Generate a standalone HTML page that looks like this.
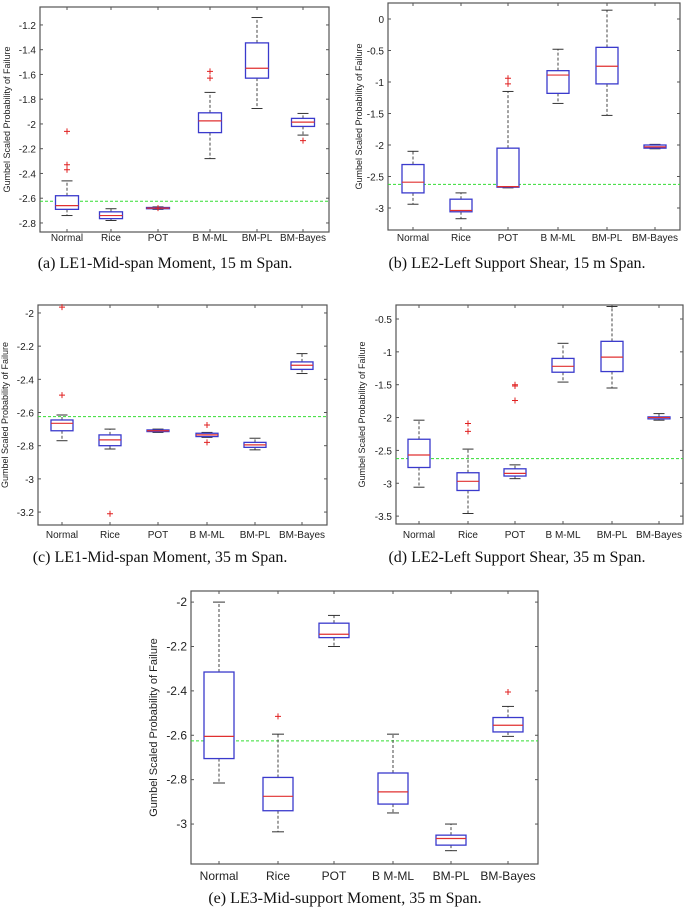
<!DOCTYPE html>
<html><head><meta charset="utf-8"><style>
html,body{margin:0;padding:0;background:#fff;}
svg{display:block;}
.tk{font-family:"Liberation Sans",sans-serif;font-size:10px;fill:#222;}
.yt{font-family:"Liberation Sans",sans-serif;font-size:9px;fill:#222;}
.tkE{font-family:"Liberation Sans",sans-serif;font-size:12px;fill:#222;}
.ytE{font-family:"Liberation Sans",sans-serif;font-size:11px;fill:#222;}
.cap{font-family:"Liberation Serif",serif;font-size:16px;fill:#111;}
</style></head><body>
<svg id="fig" width="685" height="907" viewBox="0 0 685 907" xmlns="http://www.w3.org/2000/svg"></svg>
<script>
const categories = ["Normal","Rice","POT","B M-ML","BM-PL","BM-Bayes"];
const refLine = -2.625;
// Panel a
const aLo  = [-2.74,-2.78,-2.69,-2.28,-1.875,-2.09];
const aQ1  = [-2.69,-2.765,-2.685,-2.07,-1.63,-2.02];
const aMed = [-2.66,-2.74,-2.68,-1.975,-1.55,-1.985];
const aQ3  = [-2.58,-2.71,-2.675,-1.91,-1.345,-1.955];
const aHi  = [-2.46,-2.685,-2.67,-1.745,-1.14,-1.915];
const aOut = [[-2.06,-2.33,-2.37],[],[-2.68],[-1.575,-1.63],[],[-2.135]];
const aTicks = [-1.2,-1.4,-1.6,-1.8,-2,-2.2,-2.4,-2.6,-2.8];
// Panel b
const bLo  = [-2.94,-3.17,-2.68,-1.34,-1.53,-2.06];
const bQ1  = [-2.76,-3.06,-2.67,-1.18,-1.03,-2.05];
const bMed = [-2.59,-3.04,-2.66,-0.89,-0.75,-2.03];
const bQ3  = [-2.31,-2.86,-2.05,-0.82,-0.45,-2.0];
const bHi  = [-2.1,-2.76,-1.15,-0.48,0.14,-1.99];
const bOut = [[],[],[-0.94,-1.03],[],[],[]];
const bTicks = [0,-0.5,-1,-1.5,-2,-2.5,-3];
// Panel c
const cLo  = [-2.77,-2.82,-2.72,-2.75,-2.825,-2.365];
const cQ1  = [-2.71,-2.8,-2.715,-2.745,-2.81,-2.34];
const cMed = [-2.665,-2.765,-2.71,-2.735,-2.795,-2.315];
const cQ3  = [-2.645,-2.735,-2.705,-2.725,-2.78,-2.295];
const cHi  = [-2.615,-2.70,-2.70,-2.72,-2.755,-2.245];
const cOut = [[-1.965,-2.495],[-3.21],[],[-2.675,-2.78],[],[]];
const cTicks = [-2,-2.2,-2.4,-2.6,-2.8,-3,-3.2];
// Panel d
const dLo  = [-3.06,-3.46,-2.93,-1.46,-1.55,-2.04];
const dQ1  = [-2.76,-3.11,-2.89,-1.31,-1.30,-2.02];
const dMed = [-2.57,-2.97,-2.85,-1.22,-1.08,-2.0];
const dQ3  = [-2.33,-2.84,-2.78,-1.10,-0.84,-1.99];
const dHi  = [-2.04,-2.48,-2.72,-0.87,-0.31,-1.94];
const dOut = [[],[-2.09,-2.21],[-1.50,-1.52,-1.74],[],[],[]];
const dTicks = [-0.5,-1,-1.5,-2,-2.5,-3,-3.5];
// Panel e
const eLo  = [-2.815,-3.035,-2.2,-2.95,-3.12,-2.605];
const eQ1  = [-2.705,-2.94,-2.16,-2.91,-3.095,-2.585];
const eMed = [-2.605,-2.875,-2.145,-2.855,-3.065,-2.555];
const eQ3  = [-2.315,-2.79,-2.095,-2.77,-3.05,-2.52];
const eHi  = [-2.0,-2.595,-2.06,-2.595,-3.0,-2.47];
const eOut = [[],[-2.515],[],[],[],[-2.405]];
const eTicks = [-2,-2.2,-2.4,-2.6,-2.8,-3];

const NS="http://www.w3.org/2000/svg";
const fig=document.getElementById('fig');
function mk(tag,attrs,parent){const e=document.createElementNS(NS,tag);for(const k in attrs)e.setAttribute(k,attrs[k]);(parent||fig).appendChild(e);return e;}

const panels=[
 {id:'a',L:40,R:329,T:7,B:232,vTop:-1.055,vBot:-2.873,xs:[67,111,158,210,257,303],hw:11.5,cw:5.5,lo:aLo,q1:aQ1,med:aMed,q3:aQ3,hi:aHi,out:aOut,ticks:aTicks,tickY:241,ytX:10,capX:165,capY:268,cap:"(a) LE1-Mid-span Moment, 15 m Span.",tk:'tk',yt:'yt'},
 {id:'b',L:388,R:680,T:3,B:230,vTop:0.254,vBot:-3.349,xs:[413,461,508,558,607,655],hw:11,cw:5.5,lo:bLo,q1:bQ1,med:bMed,q3:bQ3,hi:bHi,out:bOut,ticks:bTicks,tickY:241,ytX:362,capX:517,capY:268,cap:"(b) LE2-Left Support Shear, 15 m Span.",tk:'tk',yt:'yt'},
 {id:'c',L:38,R:327,T:305,B:525,vTop:-1.952,vBot:-3.278,xs:[62,110,158,207,255,302],hw:11,cw:5.5,lo:cLo,q1:cQ1,med:cMed,q3:cQ3,hi:cHi,out:cOut,ticks:cTicks,tickY:538,ytX:8,capX:160,capY:562,cap:"(c) LE1-Mid-span Moment, 35 m Span.",tk:'tk',yt:'yt'},
 {id:'d',L:396,R:683,T:305,B:524,vTop:-0.287,vBot:-3.62,xs:[419,468,515,563,612,659],hw:11,cw:5.5,lo:dLo,q1:dQ1,med:dMed,q3:dQ3,hi:dHi,out:dOut,ticks:dTicks,tickY:538,ytX:365,capX:517,capY:562,cap:"(d) LE2-Left Support Shear, 35 m Span.",tk:'tk',yt:'yt'},
 {id:'e',L:191,R:538,T:591,B:864,vTop:-1.95,vBot:-3.18,xs:[219,278,334,393,451,508],hw:15,cw:6,lo:eLo,q1:eQ1,med:eMed,q3:eQ3,hi:eHi,out:eOut,ticks:eTicks,tickY:880,ytX:157,capX:345,capY:903,cap:"(e) LE3-Mid-support Moment, 35 m Span.",tk:'tkE',yt:'ytE'}
];

panels.forEach(p=>{
 const y=v=>p.T+(p.vTop-v)/(p.vTop-p.vBot)*(p.B-p.T);
 const g=mk('g',{});
 
 
 const fr=mk('rect',{x:p.L,y:p.T,width:p.R-p.L,height:p.B-p.T,fill:'none',stroke:'#555','stroke-width':1.2},g);
 
 
 p.ticks.forEach(t=>{
  const yy=y(t);
  mk('line',{x1:p.L,x2:p.L+3,y1:yy,y2:yy,stroke:'#555','stroke-width':1},g);
  mk('line',{x1:p.R,x2:p.R-3,y1:yy,y2:yy,stroke:'#555','stroke-width':1},g);
  const tx=mk('text',{x:p.L-4,y:yy+4,'text-anchor':'end',class:p.tk},g);
  tx.textContent=String(t);
  
  
 });
 const yt=mk('text',{x:0,y:0,class:p.yt,'text-anchor':'middle',transform:`translate(${p.ytX},${(p.T+p.B)/2}) rotate(-90)`},g);
 yt.textContent='Gumbel Scaled Probability of Failure';
 
 
 const rl=mk('line',{x1:p.L,x2:p.R,y1:y(refLine),y2:y(refLine),stroke:'#33dd33','stroke-width':1,'stroke-dasharray':'3,2'},g);
 
 
 categories.forEach((c,i)=>{
  const x=p.xs[i];
  mk('line',{x1:x,x2:x,y1:p.B,y2:p.B-3,stroke:'#555'},g);
  mk('line',{x1:x,x2:x,y1:p.T,y2:p.T+3,stroke:'#555'},g);
  const lb=mk('text',{x:x,y:p.tickY,'text-anchor':'middle',class:p.tk},g);
  lb.textContent=c;
  
  
  const bx=mk('g',{},g);
  
  
  const yl=y(p.lo[i]),yq1=y(p.q1[i]),ym=y(p.med[i]),yq3=y(p.q3[i]),yh=y(p.hi[i]);
  mk('line',{x1:x,x2:x,y1:yq3,y2:yh,stroke:'#333','stroke-dasharray':'3,2','stroke-width':0.9},bx);
  mk('line',{x1:x,x2:x,y1:yq1,y2:yl,stroke:'#333','stroke-dasharray':'3,2','stroke-width':0.9},bx);
  mk('line',{x1:x-p.cw,x2:x+p.cw,y1:yh,y2:yh,stroke:'#333','stroke-width':1},bx);
  mk('line',{x1:x-p.cw,x2:x+p.cw,y1:yl,y2:yl,stroke:'#333','stroke-width':1},bx);
  mk('rect',{x:x-p.hw,y:yq3,width:2*p.hw,height:Math.max(1,yq1-yq3),fill:'#fff',stroke:'#3a3acc','stroke-width':1.3},bx);
  mk('line',{x1:x-p.hw,x2:x+p.hw,y1:ym,y2:ym,stroke:'#e03030','stroke-width':1.2},bx);
  p.out[i].forEach(o=>{
   const oy=y(o);
   const pl=mk('path',{d:`M${x-3},${oy}H${x+3}M${x},${oy-3}V${oy+3}`,stroke:'#e02020','stroke-width':1},bx);
   
   
  });
 });
 const cp=mk('text',{x:p.capX,y:p.capY,'text-anchor':'middle',class:'cap'},g);
 cp.textContent=p.cap;
 
 
});
</script>
</body></html>
